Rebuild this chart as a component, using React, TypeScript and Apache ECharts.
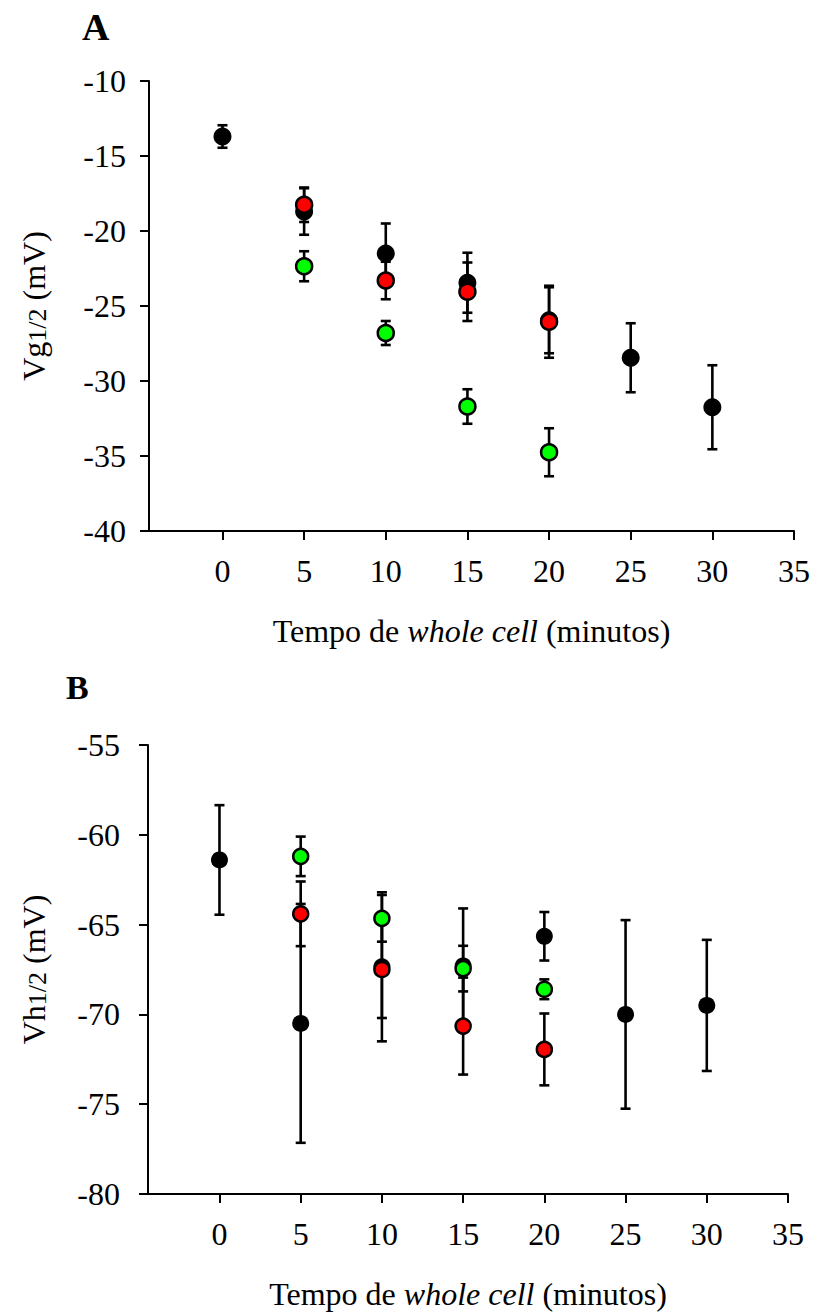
import React, { useEffect, useRef } from "react";
import * as echarts from "echarts";

// ---------- data ----------
const timeAll = [0, 5, 10, 15, 20, 25, 30];
const timeSub = [5, 10, 15, 20];
const xTicks = [0, 5, 10, 15, 20, 25, 30, 35];

// Panel A: Vg1/2 (mV)
const vgBlack = [-13.7, -18.7, -21.5, -23.45, -25.95, -28.45, -31.75];
const vgBlackErr = [0.75, 1.55, 2.0, 2.0, 2.2, 2.3, 2.8];
const vgGreen = [-22.35, -26.8, -31.7, -34.75];
const vgGreenErr = [1.0, 0.8, 1.15, 1.6];
const vgRed = [-18.25, -23.3, -24.05, -26.05];
const vgRedErr = [1.15, 1.25, 1.95, 2.4];

// Panel B: Vh1/2 (mV)
const vhBlack = [-61.4, -70.5, -67.35, -67.3, -65.65, -70.0, -69.5];
const vhBlackErr = [3.05, 6.65, 4.15, 3.2, 1.35, 5.25, 3.65];
const vhGreen = [-61.2, -64.65, -67.45, -68.6];
const vhGreenErr = [1.1, 1.3, 1.27, 0.55];
const vhRed = [-64.4, -67.5, -70.65, -71.95];
const vhRedErr = [1.8, 2.7, 2.7, 2.0];

const yTicksA = { min: -40, max: -10, interval: 5 };
const yTicksB = { min: -80, max: -55, interval: 5 };

const FONT = "'Liberation Serif', 'Times New Roman', Times, serif";

function errData(xs: number[], ys: number[], es: number[]) {
  return xs.map((x, i) => [x, ys[i], ys[i] - es[i], ys[i] + es[i]]);
}
function ptData(xs: number[], ys: number[]) {
  return xs.map((x, i) => [x, ys[i]]);
}

const renderErr = (params: any, api: any) => {
  const lo = api.coord([api.value(0), api.value(2)]);
  const hi = api.coord([api.value(0), api.value(3)]);
  const cap = 5;
  const style = { stroke: "#000", lineWidth: 2.6 };
  return {
    type: "group",
    children: [
      { type: "line", shape: { x1: lo[0], y1: lo[1], x2: hi[0], y2: hi[1] }, style },
      { type: "line", shape: { x1: lo[0] - cap, y1: lo[1], x2: lo[0] + cap, y2: lo[1] }, style },
      { type: "line", shape: { x1: hi[0] - cap, y1: hi[1], x2: hi[0] + cap, y2: hi[1] }, style },
    ],
  };
};

function xAxisDef(gridIndex: number, min: number) {
  return {
    type: "value",
    gridIndex,
    min,
    max: 35,
    splitLine: { show: false },
    axisLine: { show: true, onZero: false, lineStyle: { color: "#000", width: 2 } },
    axisTick: { show: true, customValues: xTicks, length: 9, lineStyle: { color: "#000", width: 2 } },
    axisLabel: { customValues: xTicks, margin: 24, fontSize: 32, color: "#000", fontFamily: FONT },
    name: "{n|Tempo de }{i|whole cell}{n| (minutos)}",
    nameLocation: "middle",
    nameGap: 84,
    nameTextStyle: {
      rich: {
        n: { fontSize: 32, fontFamily: FONT, color: "#000" },
        i: { fontSize: 32, fontFamily: FONT, color: "#000", fontStyle: "italic" },
      },
    },
  };
}

function yAxisDef(gridIndex: number, t: { min: number; max: number; interval: number }, letter: string, margin: number, gap: number) {
  return {
    type: "value",
    gridIndex,
    min: t.min,
    max: t.max,
    interval: t.interval,
    splitLine: { show: false },
    axisLine: { show: true, onZero: false, lineStyle: { color: "#000", width: 2 } },
    axisTick: { show: true, length: 9, lineStyle: { color: "#000", width: 2 } },
    axisLabel: { margin, fontSize: 32, color: "#000", fontFamily: FONT },
    name: `{a|V${letter}}{s|1/2}{a| (mV)}`,
    nameLocation: "middle",
    nameRotate: 90,
    nameGap: gap,
    nameTextStyle: {
      rich: {
        a: { fontSize: 32, fontFamily: FONT, color: "#000", lineHeight: 32 },
        s: { fontSize: 26, fontFamily: FONT, color: "#000", lineHeight: 26, verticalAlign: "bottom", padding: [16, 0, 0, 0] },
      },
    },
  };
}

function errSeries(name: string, xi: number, data: number[][]) {
  return {
    type: "custom",
    name,
    xAxisIndex: xi,
    yAxisIndex: xi,
    renderItem: renderErr,
    encode: { x: 0, y: [1, 2, 3] },
    data,
    silent: true,
  };
}

function ptSeries(name: string, xi: number, data: number[][], color: string, size: number) {
  const black = color === "#000000";
  return {
    type: "scatter",
    name,
    xAxisIndex: xi,
    yAxisIndex: xi,
    symbol: "circle",
    symbolSize: black ? size + 1 : size - 1,
    itemStyle: { color, borderColor: "#000", borderWidth: black ? 0 : 2.5, opacity: 1 },
    data,
  };
}

export default function App() {
  const ref = useRef<HTMLDivElement>(null);
  useEffect(() => {
    if (!ref.current) return;
    const chart = echarts.init(ref.current, null, { renderer: "svg" });
    chart.setOption({
      animation: false,
      backgroundColor: "#fff",
      grid: [
        { left: 149, top: 81, width: 645, height: 450 },
        { left: 140, top: 745, width: 648, height: 449 },
      ],
      xAxis: [xAxisDef(0, -4.5), xAxisDef(1, -4.4)],
      yAxis: [yAxisDef(0, yTicksA, "g", 23, 99), yAxisDef(1, yTicksB, "h", 28, 98)],
      graphic: [
        { type: "text", left: 82, top: 8, style: { text: "A", font: `bold 38px ${FONT}`, fill: "#000" } },
        { type: "text", left: 66, top: 670, style: { text: "B", font: `bold 34px ${FONT}`, fill: "#000" } },
      ],
      series: [
        errSeries("vgBlackErr", 0, errData(timeAll, vgBlack, vgBlackErr)),
        errSeries("vgGreenErr", 0, errData(timeSub, vgGreen, vgGreenErr)),
        errSeries("vgRedErr", 0, errData(timeSub, vgRed, vgRedErr)),
        ptSeries("vgBlack", 0, ptData(timeAll, vgBlack), "#000000", 17),
        ptSeries("vgGreen", 0, ptData(timeSub, vgGreen), "#00ff00", 17),
        ptSeries("vgRed", 0, ptData(timeSub, vgRed), "#ff0000", 17),
        errSeries("vhBlackErr", 1, errData(timeAll, vhBlack, vhBlackErr)),
        errSeries("vhGreenErr", 1, errData(timeSub, vhGreen, vhGreenErr)),
        errSeries("vhRedErr", 1, errData(timeSub, vhRed, vhRedErr)),
        ptSeries("vhBlack", 1, ptData(timeAll, vhBlack), "#000000", 16),
        ptSeries("vhGreen", 1, ptData(timeSub, vhGreen), "#00ff00", 16),
        ptSeries("vhRed", 1, ptData(timeSub, vhRed), "#ff0000", 16),
      ],
    });
    return () => chart.dispose();
  }, []);
  return (
    <div
      ref={ref}
      style={{ position: "absolute", left: 0, top: 0, width: 813, height: 1313, background: "#fff" }}
    />
  );
}
